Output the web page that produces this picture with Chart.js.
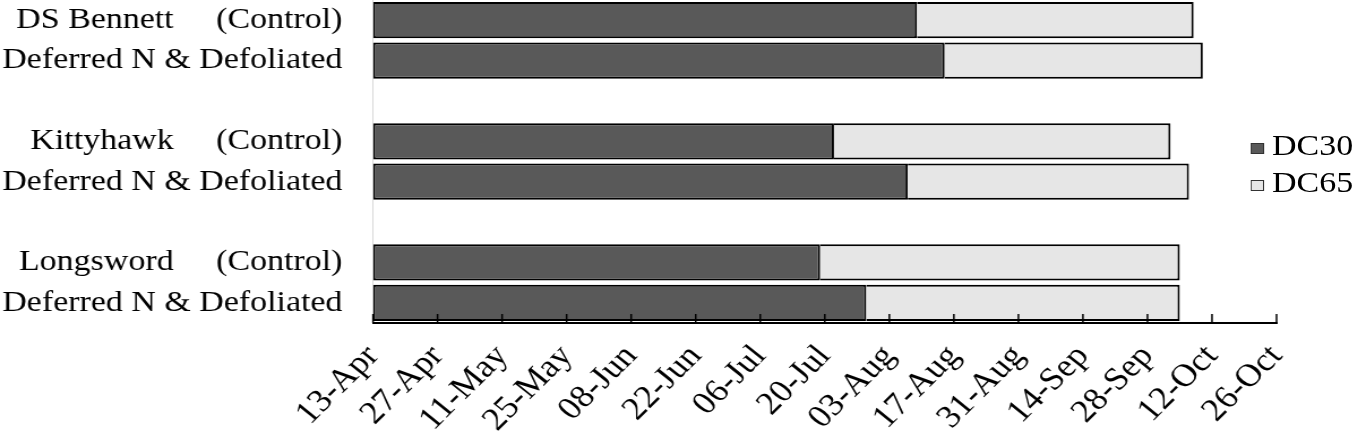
<!DOCTYPE html>
<html>
<head>
<meta charset="utf-8">
<script src="https://cdn.jsdelivr.net/npm/chart.js@4.4.1/dist/chart.umd.min.js"></script>
<style>
  html, body { margin: 0; padding: 0; background: #fff; overflow: hidden; }
  /* the source figure is a Times-style chart stretched sideways, so draw it 1200 wide and stretch it to 1358 */
  #wrap { position: relative; width: 1200px; height: 436px; transform: scaleX(1.1317); transform-origin: 0 0; }
  #legend { position: absolute; left: 1105px; top: 0; font: 30px 'Liberation Serif', 'Times New Roman', serif; color: #000; }
  .item { position: absolute; left: 0; white-space: nowrap; line-height: 30px; }
  .box { position: absolute; left: 0; width: 12px; height: 11px; border: 1px solid #333; box-sizing: border-box; }
  .lbl { position: absolute; left: 19px; }
</style>
</head>
<body>
<div id="wrap">
  <canvas id="chart" width="1200" height="436"></canvas>
  <div id="legend"></div>
</div>
<script>
// Categories top to bottom, empty strings are the gaps between cultivars
const categories = [
  'DS Bennett     (Control)', 'Deferred N & Defoliated', '',
  'Kittyhawk     (Control)', 'Deferred N & Defoliated', '',
  'Longsword     (Control)', 'Deferred N & Defoliated'
];

// Days after 13-Apr when each stage was reached
const dc30 = [118, 124, null, 100, 116, null, 97, 107];
const dc65 = [178, 180, null, 173, 177, null, 175, 175];

// x axis tick labels, one every 14 days
const tickLabels = ['13-Apr', '27-Apr', '11-May', '25-May', '08-Jun', '22-Jun', '06-Jul',
  '20-Jul', '03-Aug', '17-Aug', '31-Aug', '14-Sep', '28-Sep', '12-Oct', '26-Oct'];

const seriesNames = ['DC30', 'DC65'];
const seriesColors = ['#595959', '#e6e6e6'];

const serif = "'Liberation Serif', 'Times New Roman', serif";

// tick marks on the date axis point up into the plot
const innerTicks = {
  id: 'innerTicks',
  afterDatasetsDraw(chart) {
    const { ctx, chartArea, scales: { x } } = chart;
    ctx.save();
    ctx.strokeStyle = '#000';
    ctx.lineWidth = 1.5;
    x.ticks.forEach(t => {
      const px = x.getPixelForValue(t.value);
      ctx.beginPath();
      ctx.moveTo(px, chartArea.bottom);
      ctx.lineTo(px, chartArea.bottom - 9);
      ctx.stroke();
    });
    ctx.restore();
  }
};

const ctx = document.getElementById('chart').getContext('2d');
new Chart(ctx, {
  type: 'bar',
  data: {
    labels: categories,
    datasets: [
      {
        label: seriesNames[0],
        data: dc30,
        backgroundColor: seriesColors[0],
        borderColor: '#000',
        borderWidth: 2,
        borderSkipped: false
      },
      {
        label: seriesNames[1],
        // floating bar from DC30 to DC65
        data: dc30.map((v, i) => v === null ? null : [v, dc65[i]]),
        backgroundColor: seriesColors[1],
        borderColor: '#000',
        borderWidth: { top: 2, right: 2, bottom: 2, left: 0 },
        borderSkipped: false
      }
    ]
  },
  options: {
    indexAxis: 'y',
    responsive: false,
    animation: false,
    barPercentage: 0.9,
    categoryPercentage: 1.0,
    layout: { padding: { top: 0, left: 0, right: 72, bottom: 0 } },
    scales: {
      y: {
        stacked: true,
        grid: { display: false, drawTicks: false },
        border: { color: '#d9d9d9', width: 1 },
        ticks: { color: '#000', padding: 27, font: { family: serif, size: 30 } },
        afterFit(scale) {
          scale.width = 329.6;
          scale.paddingTop = 0;
          scale.paddingBottom = 0;
        }
      },
      x: {
        type: 'linear',
        min: 0,
        max: 196,
        grid: { display: false, drawTicks: false },
        border: { color: '#000', width: 2 },
        ticks: {
          stepSize: 14,
          autoSkip: false,
          minRotation: 48,
          maxRotation: 48,
          padding: 15,
          color: '#000',
          font: { family: serif, size: 32 },
          callback: (v, i) => tickLabels[i]
        },
        afterFit(scale) {
          scale.height = 113;
          scale.paddingLeft = 0;
          scale.paddingRight = 0;
        }
      }
    },
    plugins: {
      legend: { display: false },
      tooltip: { enabled: false }
    }
  },
  plugins: [innerTicks]
});

// legend as text beside the plot
const legend = document.getElementById('legend');
seriesNames.forEach((name, i) => {
  const item = document.createElement('div');
  item.className = 'item';
  item.style.top = (130 + i * 37) + 'px';
  const box = document.createElement('span');
  box.className = 'box';
  box.style.top = '13px';
  box.style.background = seriesColors[i];
  const lbl = document.createElement('span');
  lbl.className = 'lbl';
  lbl.textContent = name;
  item.appendChild(box);
  item.appendChild(lbl);
  legend.appendChild(item);
});
</script>
</body>
</html>
